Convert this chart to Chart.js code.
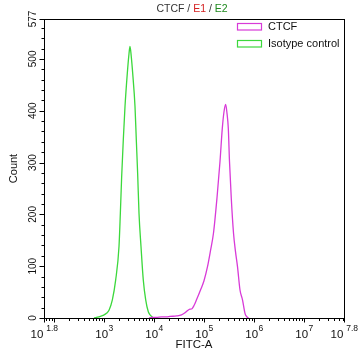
<!DOCTYPE html>
<html><head><meta charset="utf-8">
<script src="https://cdn.jsdelivr.net/npm/chart.js@4.4.0/dist/chart.umd.min.js"></script>
<style>html,body{margin:0;padding:0;background:#fff}canvas{display:block}</style>
</head><body>
<canvas id="c" width="358" height="361"></canvas>
<script>
// ---- data (x values are log10 of FITC-A intensity) ----
const seriesNames = ["CTCF", "Isotype control"];
const seriesColors = ["#d83ad8", "#3cd83c"];
const ctcfLog   = [3.90,3.95,4.05,4.15,4.25,4.32,4.45,4.55,4.62,4.68,4.72,4.76,4.80,4.85,4.93,5.00,5.07,5.13,5.19,5.26,5.32,5.366,5.40,5.433,5.46,5.486,5.51,5.545,5.59,5.63,5.67,5.72,5.77,5.82,5.85,5.89];
const ctcfCount = [0,   1,   1,   2,   2,   3,   4,   6,   10,  15,  17,  18,  24,  35,  54,  72,  99,  130, 164, 232, 302, 366,  398, 412,  395, 366,  302, 232,  164, 128, 99,  54,  35,  9,   3,   0];
const isoLog    = [2.80,2.90,2.98,3.05,3.10,3.167,3.233,3.30,3.327,3.353,3.386,3.42,3.466,3.50,3.52,3.545,3.574,3.62,3.646,3.673,3.70,3.74,3.786,3.834,3.886,3.93,3.98,4.02];
const isoCount  = [0,   2,   5,   9,   15,  35,   73,   138, 202,  272,  344,  408, 472,  510, 524, 505,  472,  408, 344,  279,  202, 138, 73,   35,   12,   5,   1,   0];
const xTickExps = [1.8, 3, 4, 5, 6, 7, 7.8];
const yTickValues = [0, 100, 200, 300, 400, 500, 577];
const titleParts = [["CTCF / ", "#333333"], ["E1", "#d42020"], [" / ", "#333333"], ["E2", "#1f8a1f"]];
const xTitle = "FITC-A";
const yTitle = "Count";

const FONT = '"Liberation Sans", Arial, sans-serif';

const deco = {
  id: 'deco',
  afterDraw(chart) {
    const ctx = chart.ctx, a = chart.chartArea, xs = chart.scales.x, ys = chart.scales.y;
    ctx.save();
    ctx.strokeStyle = '#000'; ctx.lineWidth = 1;
    const L = Math.round(a.left) + 0.5, R = Math.round(a.right) + 0.5;
    const T = Math.round(a.top) + 0.5, B = Math.round(a.bottom) + 0.5;
    ctx.strokeRect(L, T, R - L, B - T);
    // x ticks (log minor)
    ctx.beginPath();
    for (let n = 1; n <= 7; n++) {
      for (let k = 1; k <= 9; k++) {
        const v = n + Math.log10(k);
        if (v < xs.min - 1e-9 || v > xs.max + 1e-9) continue;
        const px = Math.round(xs.getPixelForValue(v)) + 0.5;
        ctx.moveTo(px, B); ctx.lineTo(px, B + (k === 1 ? 4 : 2.5));
      }
    }
    [xs.min, xs.max].forEach(v => {
      const px = Math.round(xs.getPixelForValue(v)) + 0.5;
      ctx.moveTo(px, B); ctx.lineTo(px, B + 4);
    });
    // y ticks
    for (let v = 0; v <= ys.max; v += 20) {
      const py = Math.round(ys.getPixelForValue(v)) + 0.5;
      ctx.moveTo(L, py); ctx.lineTo(L - (v % 100 === 0 ? 5 : 3), py);
    }
    const pm = Math.round(ys.getPixelForValue(ys.max)) + 0.5;
    ctx.moveTo(L, pm); ctx.lineTo(L - 5, pm);
    ctx.stroke();

    // x tick labels
    ctx.fillStyle = '#111';
    ctx.textBaseline = 'alphabetic';
    xTickExps.forEach(e => {
      const base = "10";
      const sup = (Number.isInteger(e) ? "" : " ") + String(e);
      ctx.font = '11.5px ' + FONT;
      const wb = ctx.measureText(base).width;
      ctx.font = '8.5px ' + FONT;
      const ws = ctx.measureText(sup).width;
      const cx = xs.getPixelForValue(e);
      const x0 = cx - (wb + ws) / 2;
      ctx.textAlign = 'left';
      ctx.font = '11.5px ' + FONT;
      ctx.fillText(base, x0, 337.5);
      ctx.font = '8.5px ' + FONT;
      ctx.fillText(sup, x0 + wb + 0.5, 331);
    });
    // x title
    ctx.font = '11.5px ' + FONT;
    ctx.textAlign = 'center';
    ctx.fillText(xTitle, (a.left + a.right) / 2, 347.5);

    // y tick labels (rotated)
    ctx.font = '10px ' + FONT;
    yTickValues.forEach(v => {
      const py = ys.getPixelForValue(v);
      ctx.save();
      ctx.translate(35.5, py);
      ctx.rotate(-Math.PI / 2);
      ctx.textAlign = 'center';
      ctx.fillText(String(v), 0, 0);
      ctx.restore();
    });
    // y title
    ctx.save();
    ctx.font = '11px ' + FONT;
    ctx.translate(17, (a.top + a.bottom) / 2);
    ctx.rotate(-Math.PI / 2);
    ctx.textAlign = 'center';
    ctx.fillText(yTitle, 0, 0);
    ctx.restore();

    // title
    ctx.font = '10.5px ' + FONT;
    ctx.textAlign = 'left';
    let tw = 0;
    titleParts.forEach(p => tw += ctx.measureText(p[0]).width);
    let tx = (a.left + a.right) / 2 - 2 - tw / 2;
    titleParts.forEach(p => {
      ctx.fillStyle = p[1];
      ctx.fillText(p[0], tx, 11.5);
      tx += ctx.measureText(p[0]).width;
    });

    // legend
    ctx.font = '11px ' + FONT;
    chart.data.datasets.forEach((ds, i) => {
      const y = 23.5 + i * 17;
      ctx.strokeStyle = ds.borderColor;
      ctx.lineWidth = 1.2;
      ctx.strokeRect(237.5, y, 24, 6.5);
      ctx.fillStyle = '#111';
      ctx.textBaseline = 'middle';
      ctx.fillText(ds.label, 268, y + 3.5);
    });
    ctx.restore();
  }
};

new Chart(document.getElementById('c'), {
  type: 'line',
  data: {
    datasets: [
      { label: seriesNames[0], data: ctcfLog.map((x, i) => ({x, y: ctcfCount[i]})),
        borderColor: seriesColors[0], borderWidth: 1.3, pointRadius: 0, fill: false,
        cubicInterpolationMode: 'monotone', clip: 3 },
      { label: seriesNames[1], data: isoLog.map((x, i) => ({x, y: isoCount[i]})),
        borderColor: seriesColors[1], borderWidth: 1.3, pointRadius: 0, fill: false,
        cubicInterpolationMode: 'monotone', clip: 3 }
    ]
  },
  options: {
    responsive: false,
    animation: false,
    devicePixelRatio: 1,
    layout: { padding: { left: 44, right: 14, top: 19, bottom: 43 } },
    scales: {
      x: { type: 'linear', min: 1.8, max: 7.8, display: false },
      y: { type: 'linear', min: 0, max: 577, display: false }
    },
    plugins: { legend: { display: false }, title: { display: false }, tooltip: { enabled: false } }
  },
  plugins: [deco]
});
</script>
</body></html>
